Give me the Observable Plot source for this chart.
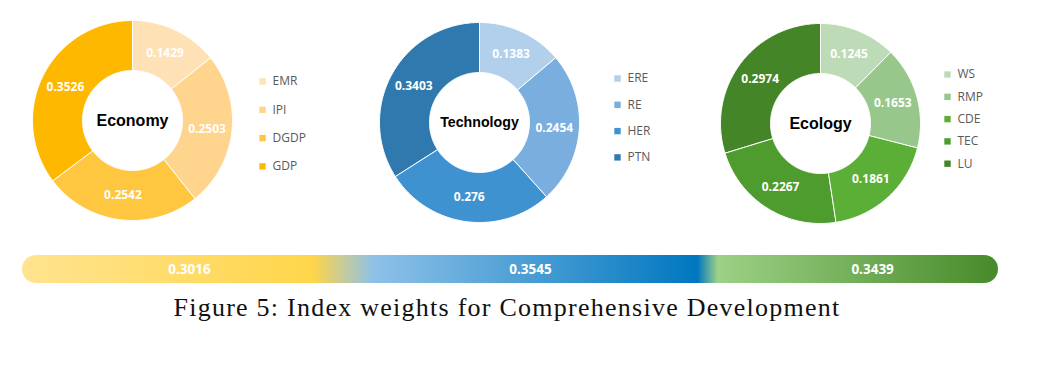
<!DOCTYPE html>
<html>
<head>
<meta charset="utf-8">
<script src="https://cdn.jsdelivr.net/npm/d3@7"></script>
<script src="https://cdn.jsdelivr.net/npm/@observablehq/plot@0.6"></script>
<style>
  html, body { margin: 0; padding: 0; background: #fff; }
  #chart svg { display: block; }
  #caption {
    width: 1014px; box-sizing: border-box;
    text-align: center; font-family: "Liberation Serif", "DejaVu Serif", serif;
    font-size: 26px; letter-spacing: 1.25px; line-height: 30px; color: #111; padding-top: 1px;
  }
</style>
</head>
<body>
<div id="chart"></div>
<div id="caption">Figure 5: Index weights for Comprehensive Development</div>
<script>
// ---------- data ----------
const groups = ["Economy", "Technology", "Ecology"];
const groupWeights = [0.3016, 0.3545, 0.3439];

const econLabels = ["EMR", "IPI", "DGDP", "GDP"];
const econValues = [0.1429, 0.2503, 0.2542, 0.3526];
const econColors = ["#FFE1B6", "#FFD48C", "#FFC640", "#FFB800"];

const techLabels = ["ERE", "RE", "HER", "PTN"];
const techValues = [0.1383, 0.2454, 0.276, 0.3403];
const techColors = ["#B2CFEB", "#79AEDF", "#3D92CF", "#3079AE"];

const ecoLabels = ["WS", "RMP", "CDE", "TEC", "LU"];
const ecoValues = [0.1245, 0.1653, 0.1861, 0.2267, 0.2974];
const ecoColors = ["#BDDBB7", "#97C78B", "#5CAF36", "#4E9C2E", "#438527"];

// ---------- layout ----------
const W = 1050, H = 292;
const centers = [[132, 120], [479, 122], [820, 123]];
const titleSizes = [16, 14.2, 16];
const rOuter = 100, rInner = 50, rLabel = 75;
const legendX = [262, 617, 947];
const legendY0 = [81, 78, 74];
const legendDy = [28.3, 26.3, 22.3];
const barLeft = 22, barRight = 998, barTop = 255, barBottom = 283;
const barLabelPos = [0.171, 0.5205, 0.871];
const gradStops = [
  [0, "#FFE490"], [0.298, "#FFD54A"], [0.36, "#8EC1E8"],
  [0.692, "#0077BF"], [0.713, "#9DD186"], [1, "#478A29"]
];

const series = [
  {labels: econLabels, values: econValues, colors: econColors},
  {labels: techLabels, values: techValues, colors: techColors},
  {labels: ecoLabels, values: ecoValues, colors: ecoColors}
];

// ---------- derived geometry ----------
const pie = d3.pie().sort(null).startAngle(0).endAngle(2 * Math.PI);
const slicePts = [], valueLabels = [], legendRows = [], titles = [];
series.forEach((s, g) => {
  const [cx, cy] = centers[g];
  titles.push({x: cx, y: cy, t: groups[g], size: titleSizes[g]});
  const arcs = pie(s.values);
  arcs.forEach((a, i) => {
    const key = g + "-" + i;
    const n = Math.max(8, Math.ceil((a.endAngle - a.startAngle) * 60));
    const pts = [];
    for (let k = 0; k <= n; k++) {
      const t = a.startAngle + (a.endAngle - a.startAngle) * k / n;
      pts.push([cx + rOuter * Math.sin(t), cy - rOuter * Math.cos(t)]);
    }
    for (let k = n; k >= 0; k--) {
      const t = a.startAngle + (a.endAngle - a.startAngle) * k / n;
      pts.push([cx + rInner * Math.sin(t), cy - rInner * Math.cos(t)]);
    }
    pts.forEach(([x, y]) => slicePts.push({key, x, y, color: s.colors[i]}));
    const m = (a.startAngle + a.endAngle) / 2;
    valueLabels.push({x: cx + rLabel * Math.sin(m), y: cy - rLabel * Math.cos(m), t: String(s.values[i])});
    legendRows.push({x: legendX[g], y: legendY0[g] + i * legendDy[g], t: s.labels[i], color: s.colors[i]});
  });
});

const total = d3.sum(groupWeights);
const barX = v => barLeft + (barRight - barLeft) * v / total;
const barData = [{x1: barX(0), x2: barX(total), y1: barTop, y2: barBottom}];
const barLabels = groupWeights.map((w, i) => ({x: barX(barLabelPos[i] * total), y: (barTop + barBottom) / 2, t: String(w)}));

const svg = Plot.plot({
  width: W, height: H,
  margin: 0,
  x: {domain: [0, W], range: [0, W], axis: null},
  y: {domain: [0, H], range: [0, H], axis: null},
  color: {type: "identity"},
  style: {background: "#fff"},
  marks: [
    Plot.line(slicePts, {x: "x", y: "y", z: "key", fill: "color", stroke: "#fff", strokeWidth: 1, curve: "linear-closed"}),
    Plot.text(valueLabels, {x: "x", y: "y", text: "t", fill: "#fff", fontFamily: "Open Sans", fontWeight: "bold", fontSize: 12}),
    ...titles.map(d => Plot.text([d], {x: "x", y: "y", text: "t", fill: "#000", fontFamily: "Liberation Sans", fontWeight: "bold", fontSize: d.size})),
    Plot.dot(legendRows, {x: "x", y: "y", symbol: "square", r: 3.6, fill: "color", stroke: null}),
    Plot.text(legendRows, {x: d => d.x + 10, y: "y", text: "t", fill: "#595959", fontFamily: "Open Sans", fontSize: 12, textAnchor: "start"}),
    Plot.rect(barData, {x1: "x1", x2: "x2", y1: "y1", y2: "y2", fill: "url(#barGrad)", rx: 14}),
    Plot.text(barLabels, {x: "x", y: "y", text: "t", fill: "#fff", fontFamily: "Open Sans", fontWeight: "bold", fontSize: 13.5})
  ]
});

const defs = d3.select(svg).insert("defs", ":first-child");
const lg = defs.append("linearGradient").attr("id", "barGrad").attr("x1", "0").attr("x2", "1").attr("y1", "0").attr("y2", "0");
gradStops.forEach(([o, c]) => lg.append("stop").attr("offset", o).attr("stop-color", c));

document.getElementById("chart").appendChild(svg);
</script>
</body>
</html>
